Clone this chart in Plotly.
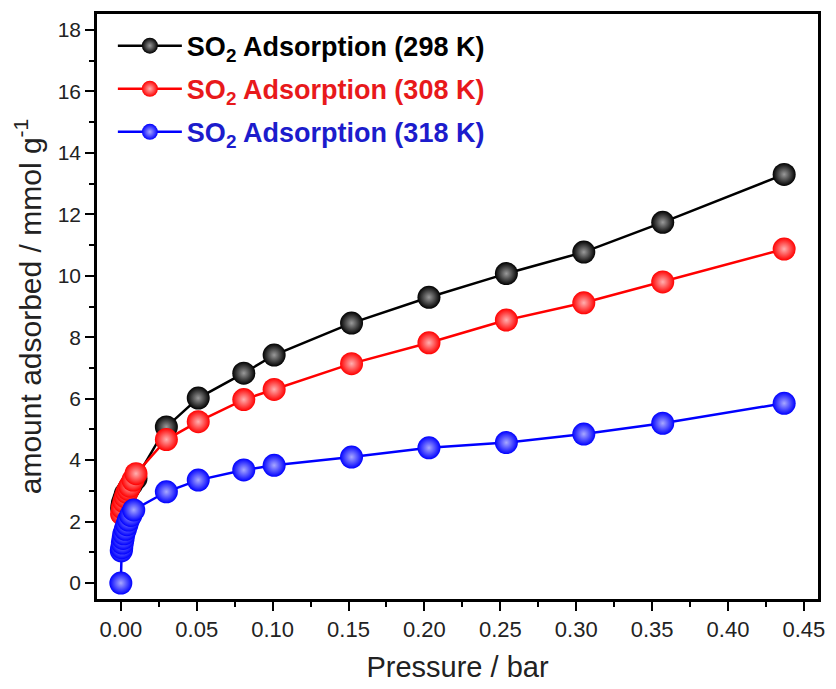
import plotly.graph_objects as go

# SO2 adsorption isotherms: pressure (bar) vs uptake (mmol/g)
p_298 = [0.0005, 0.001, 0.002, 0.003, 0.005, 0.007, 0.010, 0.030, 0.051, 0.081,
         0.101, 0.152, 0.203, 0.254, 0.305, 0.357, 0.437]
q_298 = [2.45, 2.6, 2.75, 2.9, 3.05, 3.2, 3.4, 5.08, 6.02, 6.83,
         7.42, 8.46, 9.30, 10.07, 10.77, 11.74, 13.30]

p_308 = [0.0005, 0.001, 0.002, 0.003, 0.004, 0.005, 0.006, 0.008, 0.010, 0.030,
         0.051, 0.081, 0.101, 0.152, 0.203, 0.254, 0.305, 0.357, 0.437]
q_308 = [2.25, 2.45, 2.65, 2.8, 2.95, 3.05, 3.15, 3.35, 3.56, 4.67,
         5.25, 5.97, 6.30, 7.14, 7.82, 8.56, 9.12, 9.80, 10.87]

p_318 = [0.0, 0.0003, 0.0006, 0.001, 0.0015, 0.002, 0.003, 0.004, 0.005, 0.0065,
         0.0085, 0.030, 0.051, 0.081, 0.101, 0.152, 0.203, 0.254, 0.305, 0.357, 0.437]
q_318 = [0.0, 1.05, 1.15, 1.3, 1.45, 1.6, 1.75, 1.9, 2.05, 2.2,
         2.38, 2.97, 3.35, 3.68, 3.83, 4.10, 4.40, 4.57, 4.85, 5.20, 5.85]

series = [
    ("298 K", p_298, q_298, "#000000", "#9a9a9a", "#000000"),
    ("308 K", p_308, q_308, "#ff0000", "#ffb0b0", "#e8191b"),
    ("318 K", p_318, q_318, "#0000ff", "#a8a8ff", "#1c1ccc"),
]

fig = go.Figure()
for i, (label, p, q, col, glow, txt) in enumerate(series):
    fig.add_trace(go.Scatter(
        x=p, y=q, mode="lines+markers",
        name=f"<span style='color:{txt}'><b>SO<sub>2</sub> Adsorption ({label})</b></span>",
        legendgroup=f"g{i}",
        line=dict(color=col, width=2.5),
        marker=dict(size=23, color=col,
                    gradient=dict(type="radial", color=glow),
                    line=dict(width=0)),
    ))

sans = "Liberation Sans, Arial, sans-serif"
narrow = "Liberation Sans Narrow, Arial Narrow, Liberation Sans, sans-serif"

fig.update_layout(
    width=836, height=689,
    margin=dict(l=97, r=11, t=13, b=89),
    paper_bgcolor="white", plot_bgcolor="white",
    showlegend=True,
    legend=dict(
        x=0.022, y=0.987, xanchor="left", yanchor="top",
        bgcolor="rgba(0,0,0,0)", borderwidth=0,
        font=dict(family=sans, size=27),
        itemwidth=64, tracegroupgap=5,
    ),
    xaxis=dict(
        range=[-0.0157, 0.4593], dtick=0.05, tick0=0, tickformat=".2f",
        showgrid=False, zeroline=False,
        showline=True, linewidth=2.5, linecolor="black", mirror=True,
        ticks="outside", ticklen=9, tickwidth=2, tickcolor="black",
        minor=dict(dtick=0.025, tick0=0, ticks="outside", ticklen=5,
                   tickwidth=2, tickcolor="black", showgrid=False),
        tickfont=dict(family=narrow, size=22, color="#222222"),
        title=dict(text="Pressure / bar", standoff=16,
                   font=dict(family=narrow, size=29, color="#222222")),
    ),
    yaxis=dict(
        range=[-0.52, 18.52], dtick=2, tick0=0,
        showgrid=False, zeroline=False,
        showline=True, linewidth=2.5, linecolor="black", mirror=True,
        ticks="outside", ticklen=9, tickwidth=2, tickcolor="black",
        minor=dict(dtick=1, tick0=0, ticks="outside", ticklen=5,
                   tickwidth=2, tickcolor="black", showgrid=False),
        tickfont=dict(family=sans, size=21, color="#222222"),
        title=dict(text="amount adsorbed / mmol g<sup>-1</sup>", standoff=8,
                   font=dict(family=sans, size=30, color="#222222")),
    ),
)

fig.write_html("out.html")
